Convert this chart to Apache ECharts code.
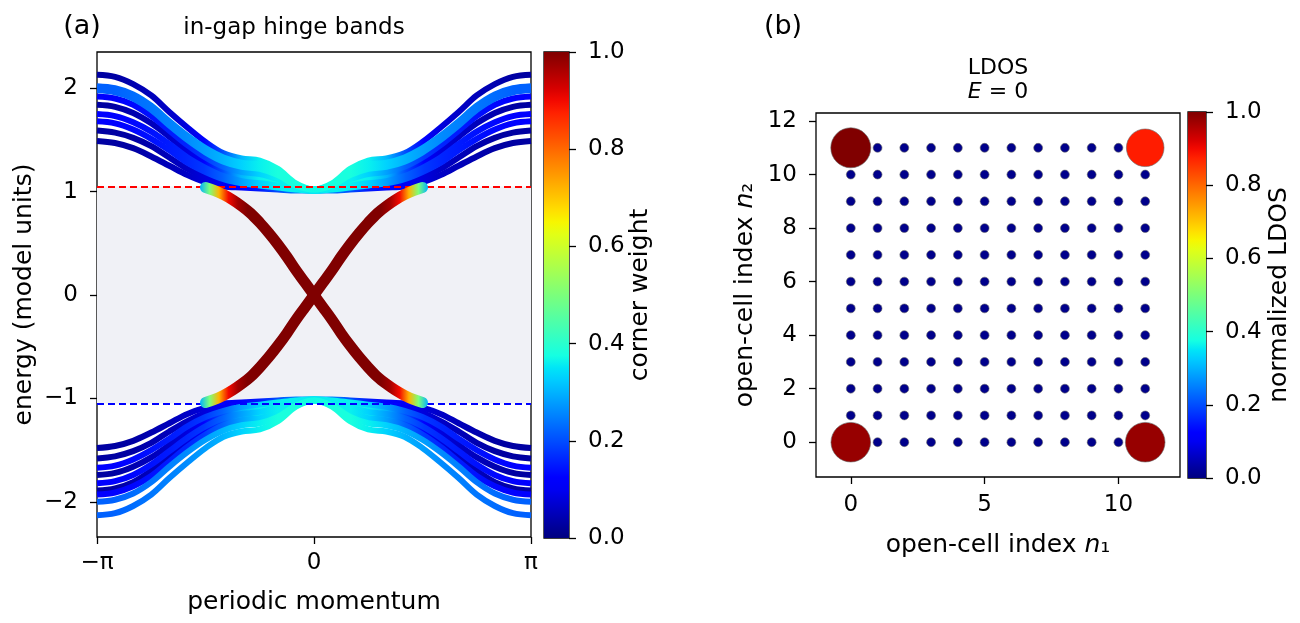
<!DOCTYPE html>
<html><head><meta charset="utf-8">
<script src="https://cdn.jsdelivr.net/npm/echarts@6/dist/echarts.min.js"></script>
<style>html,body{margin:0;padding:0;background:#fff}#c{width:1300px;height:623px}</style>
</head><body><div id="c"></div>
<script>
// ---------------- data (panel a) ----------------
// momentum in units of pi
const kGrid = [-1,-0.9167,-0.8333,-0.75,-0.6667,-0.5833,-0.5,-0.4167,-0.3333,-0.25,-0.1667,-0.0833,0,0.0833,0.1667,0.25,0.3333,0.4167,0.5,0.5833,0.6667,0.75,0.8333,0.9167,1];
const kHinge = [-0.5,-0.4583,-0.4167,-0.375,-0.3333,-0.2917,-0.25,-0.2083,-0.1667,-0.125,-0.0833,-0.0417,0,0.0417,0.0833,0.125,0.1667,0.2083,0.25,0.2917,0.3333,0.375,0.4167,0.4583,0.5];

const U1 = [2.13,2.11,2.04,1.93,1.77,1.62,1.48,1.37,1.32,1.30,1.22,1.08,1.02,1.08,1.22,1.30,1.32,1.37,1.48,1.62,1.77,1.93,2.04,2.11,2.13];
const U2 = [2.02,2.00,1.94,1.83,1.68,1.54,1.42,1.33,1.28,1.26,1.19,1.07,1.02,1.07,1.19,1.26,1.28,1.33,1.42,1.54,1.68,1.83,1.94,2.00,2.02];
const U3 = [1.98,1.96,1.90,1.79,1.64,1.50,1.38,1.29,1.24,1.22,1.16,1.06,1.02,1.06,1.16,1.22,1.24,1.29,1.38,1.50,1.64,1.79,1.90,1.96,1.98];
const U4 = [1.92,1.90,1.84,1.73,1.59,1.45,1.33,1.24,1.19,1.17,1.12,1.05,1.02,1.05,1.12,1.17,1.19,1.24,1.33,1.45,1.59,1.73,1.84,1.90,1.92];
const U5 = [1.84,1.82,1.76,1.66,1.53,1.39,1.28,1.20,1.15,1.13,1.09,1.04,1.01,1.04,1.09,1.13,1.15,1.20,1.28,1.39,1.53,1.66,1.76,1.82,1.84];
const U6 = [1.75,1.73,1.67,1.58,1.46,1.33,1.23,1.15,1.10,1.08,1.06,1.03,1.01,1.03,1.06,1.08,1.10,1.15,1.23,1.33,1.46,1.58,1.67,1.73,1.75];
const U7 = [1.68,1.66,1.60,1.51,1.40,1.28,1.19,1.12,1.08,1.06,1.04,1.02,1.01,1.02,1.04,1.06,1.08,1.12,1.19,1.28,1.40,1.51,1.60,1.66,1.68];
const U8 = [1.59,1.57,1.52,1.44,1.33,1.22,1.14,1.08,1.06,1.04,1.03,1.02,1.01,1.02,1.03,1.04,1.06,1.08,1.14,1.22,1.33,1.44,1.52,1.57,1.59];
const U9 = [1.49,1.47,1.42,1.34,1.25,1.16,1.09,1.05,1.04,1.03,1.02,1.01,1.01,1.01,1.02,1.03,1.04,1.05,1.09,1.16,1.25,1.34,1.42,1.47,1.49];

const L1 = [-1.48,-1.46,-1.41,-1.33,-1.24,-1.15,-1.09,-1.05,-1.04,-1.03,-1.02,-1.01,-1.01,-1.01,-1.02,-1.03,-1.04,-1.05,-1.09,-1.15,-1.24,-1.33,-1.41,-1.46,-1.48];
const L2 = [-1.58,-1.56,-1.51,-1.43,-1.32,-1.22,-1.14,-1.08,-1.06,-1.04,-1.03,-1.02,-1.01,-1.02,-1.03,-1.04,-1.06,-1.08,-1.14,-1.22,-1.32,-1.43,-1.51,-1.56,-1.58];
const L3 = [-1.67,-1.65,-1.59,-1.50,-1.39,-1.27,-1.18,-1.12,-1.08,-1.06,-1.04,-1.02,-1.01,-1.02,-1.04,-1.06,-1.08,-1.12,-1.18,-1.27,-1.39,-1.50,-1.59,-1.65,-1.67];
const L4 = [-1.74,-1.72,-1.66,-1.57,-1.45,-1.32,-1.22,-1.15,-1.10,-1.08,-1.06,-1.03,-1.01,-1.03,-1.06,-1.08,-1.10,-1.15,-1.22,-1.32,-1.45,-1.57,-1.66,-1.72,-1.74];
const L5 = [-1.82,-1.80,-1.74,-1.64,-1.51,-1.38,-1.27,-1.19,-1.15,-1.13,-1.09,-1.04,-1.01,-1.04,-1.09,-1.13,-1.15,-1.19,-1.27,-1.38,-1.51,-1.64,-1.74,-1.80,-1.82];
const L6 = [-1.89,-1.87,-1.81,-1.70,-1.57,-1.43,-1.31,-1.23,-1.18,-1.16,-1.11,-1.05,-1.02,-1.05,-1.11,-1.16,-1.18,-1.23,-1.31,-1.43,-1.57,-1.70,-1.81,-1.87,-1.89];
const L7 = [-1.93,-1.91,-1.85,-1.75,-1.61,-1.47,-1.35,-1.26,-1.21,-1.19,-1.14,-1.06,-1.02,-1.06,-1.14,-1.19,-1.21,-1.26,-1.35,-1.47,-1.61,-1.75,-1.85,-1.91,-1.93];
const L8 = [-2.00,-1.98,-1.92,-1.81,-1.66,-1.52,-1.40,-1.31,-1.26,-1.24,-1.18,-1.07,-1.02,-1.07,-1.18,-1.24,-1.26,-1.31,-1.40,-1.52,-1.66,-1.81,-1.92,-1.98,-2.00];
const L9 = [-2.13,-2.11,-2.04,-1.93,-1.77,-1.62,-1.48,-1.37,-1.32,-1.30,-1.22,-1.08,-1.02,-1.08,-1.22,-1.30,-1.32,-1.37,-1.48,-1.62,-1.77,-1.93,-2.04,-2.11,-2.13];

// corner-weight profiles along k
const wA = [0.03,0.03,0.04,0.05,0.06,0.08,0.12,0.20,0.30,0.36,0.38,0.38,0.37,0.38,0.38,0.36,0.30,0.20,0.12,0.08,0.06,0.05,0.04,0.03,0.03];
const wB = [0.22,0.22,0.23,0.24,0.25,0.26,0.28,0.30,0.33,0.36,0.38,0.38,0.37,0.38,0.38,0.36,0.33,0.30,0.28,0.26,0.25,0.24,0.23,0.22,0.22];
const wC = [0.12,0.12,0.13,0.14,0.15,0.16,0.18,0.22,0.28,0.33,0.36,0.36,0.35,0.36,0.36,0.33,0.28,0.22,0.18,0.16,0.15,0.14,0.13,0.12,0.12];
const wD = [0.03,0.03,0.03,0.04,0.05,0.06,0.08,0.10,0.12,0.15,0.20,0.25,0.30,0.25,0.20,0.15,0.12,0.10,0.08,0.06,0.05,0.04,0.03,0.03,0.03];

const bulkBands   = [U9, U8, U1, U5, U7, U6, U4, U3, U2, L1, L2, L4, L6, L3, L5, L7, L8, L9];
const bulkWeights = [wD, wD, wA, wA, wC, wC, wC, wB, wB, wD, wD, wA, wA, wC, wC, wC, wB, wB];

const H1 = [1.04,1.01,0.97,0.92,0.86,0.79,0.70,0.60,0.49,0.37,0.24,0.12,0,-0.12,-0.24,-0.37,-0.49,-0.60,-0.70,-0.79,-0.86,-0.92,-0.97,-1.01,-1.04];
const H2 = [-1.04,-1.01,-0.97,-0.92,-0.86,-0.79,-0.70,-0.60,-0.49,-0.37,-0.24,-0.12,0,0.12,0.24,0.37,0.49,0.60,0.70,0.79,0.86,0.92,0.97,1.01,1.04];
const wH = [0.30,0.50,0.72,0.90,0.97,1,1,1,1,1,1,1,1,1,1,1,1,1,1,1,0.97,0.90,0.72,0.50,0.30];

const gapTop = 1.05, gapBottom = -1.05;
const eTicks = [-2,-1,0,1,2];
const kTicks = [-1,0,1];
const kTickLabels = ['\u2212\u03c0','0','\u03c0'];

// ---------------- data (panel b) ----------------
const n1Vals = [0,1,2,3,4,5,6,7,8,9,10,11];
const n2Vals = [0,1,2,3,4,5,6,7,8,9,10,11];
// rows: n2 = 0..11, columns: n1 = 0..11
const ldosRows = [
 [0.98,0.01,0.01,0.01,0.01,0.01,0.01,0.01,0.01,0.01,0.01,0.98],
 [0.01,0.01,0.01,0.01,0.01,0.01,0.01,0.01,0.01,0.01,0.01,0.01],
 [0.01,0.01,0.01,0.01,0.01,0.01,0.01,0.01,0.01,0.01,0.01,0.01],
 [0.01,0.01,0.01,0.01,0.01,0.01,0.01,0.01,0.01,0.01,0.01,0.01],
 [0.01,0.01,0.01,0.01,0.01,0.01,0.01,0.01,0.01,0.01,0.01,0.01],
 [0.01,0.01,0.01,0.01,0.01,0.01,0.01,0.01,0.01,0.01,0.01,0.01],
 [0.01,0.01,0.01,0.01,0.01,0.01,0.01,0.01,0.01,0.01,0.01,0.01],
 [0.01,0.01,0.01,0.01,0.01,0.01,0.01,0.01,0.01,0.01,0.01,0.01],
 [0.01,0.01,0.01,0.01,0.01,0.01,0.01,0.01,0.01,0.01,0.01,0.01],
 [0.01,0.01,0.01,0.01,0.01,0.01,0.01,0.01,0.01,0.01,0.01,0.01],
 [0.01,0.01,0.01,0.01,0.01,0.01,0.01,0.01,0.01,0.01,0.01,0.01],
 [1.00,0.01,0.01,0.01,0.01,0.01,0.01,0.01,0.01,0.01,0.01,0.88]
];
const nXTicks = [0,5,10];
const nYTicks = [0,2,4,6,8,10,12];

// ---------------- helpers ----------------
const FONT = 'DejaVu Sans';
const JR = [[0,0],[0.35,0],[0.66,1],[0.89,1],[1,0.5]];
const JG = [[0,0],[0.125,0],[0.375,1],[0.64,1],[0.91,0],[1,0]];
const JB = [[0,0.5],[0.11,1],[0.34,1],[0.65,0],[1,0]];
function seg(p, v){
  v = Math.max(0, Math.min(1, v));
  for (let i = 1; i < p.length; i++) {
    if (v <= p[i][0]) { const t = (v - p[i-1][0]) / (p[i][0] - p[i-1][0]); return p[i-1][1] + t * (p[i][1] - p[i-1][1]); }
  }
  return p[p.length-1][1];
}
function jet(v){
  return 'rgb(' + Math.round(255*seg(JR,v)) + ',' + Math.round(255*seg(JG,v)) + ',' + Math.round(255*seg(JB,v)) + ')';
}
function hGrad(ks, ws){
  const a = ks[0], b = ks[ks.length-1];
  return new echarts.graphic.LinearGradient(0,0,1,0, ks.map((k,i)=>({offset:(k-a)/(b-a), color:jet(ws[i])})));
}
const cbarStops = [];
for (let i = 0; i <= 40; i++) cbarStops.push({offset:i/40, color:jet(i/40)});
function cbarGrad(){ return new echarts.graphic.LinearGradient(0,1,0,0, cbarStops); }

const tickStyle = {color:'#000', width:1.3};
const lblStyle = {color:'#000', fontSize:23, fontFamily:FONT};
const nameStyle = {color:'#000', fontSize:25, fontFamily:FONT};
const minus = v => (v < 0 ? '\u2212' + (-v) : '' + v);
const noLine = {show:false, onZero:false};

// ---------------- series ----------------
const series = [];
series.push({
  type:'line', xAxisIndex:0, yAxisIndex:0, data:[[-1,0]], symbol:'none', lineStyle:{opacity:0}, silent:true, z:1,
  markArea:{silent:true, itemStyle:{color:'#f0f1f6'}, data:[[{yAxis:gapBottom},{yAxis:gapTop}]]}
});
bulkBands.forEach((E, bi) => {
  series.push({
    type:'line', xAxisIndex:0, yAxisIndex:0, smooth:0.35, showSymbol:false, silent:true, z:3,
    data:kGrid.map((k,i)=>[k, E[i]]),
    lineStyle:{width:6, cap:'butt', color:hGrad(kGrid, bulkWeights[bi])}
  });
});
series.push({
  type:'line', xAxisIndex:0, yAxisIndex:0, data:[[-1,0]], symbol:'none', lineStyle:{opacity:0}, silent:true, z:4,
  markLine:{silent:true, symbol:'none', label:{show:false}, animation:false,
    data:[{yAxis:gapTop, lineStyle:{color:'#ff0000', type:[7,4], width:1.8}},
          {yAxis:gapBottom, lineStyle:{color:'#0000ff', type:[7,4], width:1.8}}]}
});
[H1, H2].forEach(E => {
  series.push({
    type:'line', xAxisIndex:0, yAxisIndex:0, smooth:0.35, showSymbol:false, silent:true, z:5,
    data:kHinge.map((k,i)=>[k, E[i]]),
    lineStyle:{width:11, cap:'round', color:hGrad(kHinge, wH)}
  });
});
series.push({type:'bar', xAxisIndex:1, yAxisIndex:1, data:[1], barWidth:'100%', silent:true, itemStyle:{color:cbarGrad()}});
const pts = [];
n2Vals.forEach((n2, r) => n1Vals.forEach((n1, c) => pts.push([n1, n2, ldosRows[r][c]])));
pts.sort((a,b)=>a[2]-b[2]);
series.push({
  type:'scatter', xAxisIndex:2, yAxisIndex:2, data:pts, silent:true, z:3,
  symbolSize: v => Math.sqrt(64 + 1536*v[2]),
  itemStyle:{color: p => jet(p.value[2]), borderColor:'#666', borderWidth:0.6, opacity:1}
});
series.push({type:'bar', xAxisIndex:3, yAxisIndex:3, data:[1], barWidth:'100%', silent:true, itemStyle:{color:cbarGrad()}});

const border = {show:true, borderColor:'#000', borderWidth:1.3, backgroundColor:'transparent'};
const italic = {i:{fontStyle:'italic', fontSize:25, fontFamily:FONT, color:'#000'}};
const option = {
  animation:false,
  backgroundColor:'#fff',
  grid:[
    Object.assign({left:97, top:52, width:434, height:485}, border),
    Object.assign({left:544, top:52, width:25, height:486}, border),
    Object.assign({left:816, top:113, width:364, height:364}, border),
    Object.assign({left:1188, top:112, width:18, height:366}, border)
  ],
  xAxis:[
    {type:'value', gridIndex:0, min:-1, max:1, splitLine:{show:false}, axisLine:noLine,
     axisTick:{show:true, length:7, lineStyle:tickStyle, customValues:kTicks},
     axisLabel:Object.assign({margin:15, customValues:kTicks, formatter:v=>kTickLabels[kTicks.indexOf(Math.round(v))]}, lblStyle),
     name:'periodic momentum', nameLocation:'middle', nameGap:53, nameTextStyle:nameStyle},
    {type:'category', gridIndex:1, data:[''], show:false},
    {type:'value', gridIndex:2, min:-1.3, max:12.3, splitLine:{show:false}, axisLine:noLine,
     axisTick:{show:true, length:7, lineStyle:tickStyle, customValues:nXTicks},
     axisLabel:Object.assign({margin:17, customValues:nXTicks}, lblStyle),
     name:'open-cell index {i|n}\u2081', nameLocation:'middle', nameGap:56,
     nameTextStyle:Object.assign({rich:italic}, nameStyle)},
    {type:'category', gridIndex:3, data:[''], show:false}
  ],
  yAxis:[
    {type:'value', gridIndex:0, min:-2.34, max:2.35, splitLine:{show:false}, axisLine:noLine,
     axisTick:{show:true, length:7, lineStyle:tickStyle, customValues:eTicks},
     axisLabel:Object.assign({margin:19, customValues:eTicks, formatter:minus}, lblStyle),
     name:'energy (model units)', nameLocation:'middle', nameGap:60, nameTextStyle:nameStyle},
    {type:'value', gridIndex:1, min:0, max:1, interval:0.2, position:'right', splitLine:{show:false}, axisLine:noLine,
     axisTick:{show:true, length:7, lineStyle:tickStyle},
     axisLabel:Object.assign({margin:19, formatter:v=>v.toFixed(1)}, lblStyle),
     name:'corner weight', nameLocation:'middle', nameGap:43, nameTextStyle:nameStyle},
    {type:'value', gridIndex:2, min:-1.3, max:12.3, splitLine:{show:false}, axisLine:noLine,
     axisTick:{show:true, length:7, lineStyle:tickStyle, customValues:nYTicks},
     axisLabel:Object.assign({margin:19, customValues:nYTicks}, lblStyle),
     name:'open-cell index {i|n}\u2082', nameLocation:'middle', nameGap:58,
     nameTextStyle:Object.assign({rich:italic}, nameStyle)},
    {type:'value', gridIndex:3, min:0, max:1, interval:0.2, position:'right', splitLine:{show:false}, axisLine:noLine,
     axisTick:{show:true, length:7, lineStyle:tickStyle},
     axisLabel:Object.assign({margin:19, formatter:v=>v.toFixed(1)}, lblStyle),
     name:'normalized LDOS', nameLocation:'middle', nameGap:61, nameTextStyle:nameStyle}
  ],
  graphic:[
    {type:'text', x:82, y:27, style:{text:'(a)', font:'27px "DejaVu Sans"', fill:'#000', align:'center', verticalAlign:'middle'}},
    {type:'text', x:294, y:28, style:{text:'in-gap hinge bands', font:'23px "DejaVu Sans"', fill:'#000', align:'center', verticalAlign:'middle'}},
    {type:'text', x:783, y:27, style:{text:'(b)', font:'27px "DejaVu Sans"', fill:'#000', align:'center', verticalAlign:'middle'}},
    {type:'text', x:998, y:68, style:{text:'LDOS', font:'22px "DejaVu Sans"', fill:'#000', align:'center', verticalAlign:'middle'}},
    {type:'text', x:998, y:92, style:{text:'{i|E} = 0', font:'22px "DejaVu Sans"', fill:'#000', align:'center', verticalAlign:'middle',
      rich:{i:{font:'italic 22px "DejaVu Sans"', fill:'#000'}}}}
  ],
  series:series
};
const chart = echarts.init(document.getElementById('c'), null, {renderer:'canvas'});
chart.setOption(option);
</script>
</body></html>
